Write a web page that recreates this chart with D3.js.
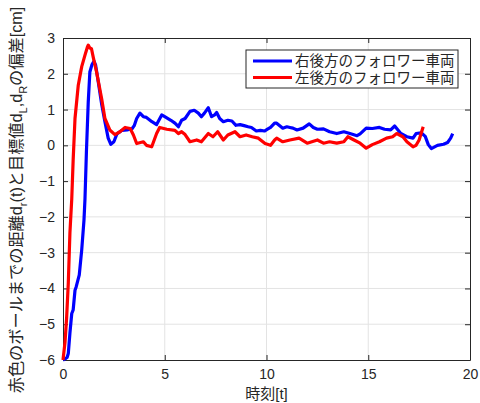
<!DOCTYPE html>
<html>
<head>
<meta charset="utf-8">
<script src="https://cdn.jsdelivr.net/npm/d3@7"></script>
<style>
  body { margin: 0; background: #fff; }
  svg { display: block; }
  .tick text { font-family: "Liberation Sans", Arial, sans-serif; font-size: 14px; fill: #262626; }
</style>
</head>
<body>
<svg id="chart" width="480" height="403"></svg>
<script>
// right rear follower (blue)
var tRight = [0, 0.1, 0.2, 0.26, 0.34, 0.43, 0.5, 0.59, 0.65, 0.8, 0.92, 1.03, 1.08, 1.15, 1.24, 1.32, 1.42, 1.52, 1.6, 1.74, 1.9, 2.06, 2.22, 2.35, 2.5, 2.65, 2.9, 3.15, 3.4, 3.5, 3.62, 3.78, 3.95, 4.1, 4.37, 4.6, 4.85, 5.0, 5.3, 5.5, 5.67, 5.83, 6.0, 6.24, 6.45, 6.65, 6.8, 6.95, 7.14, 7.3, 7.45, 7.55, 7.7, 7.88, 8.1, 8.3, 8.5, 8.7, 8.9, 9.1, 9.26, 9.5, 9.7, 9.9, 10.05, 10.2, 10.4, 10.5, 10.8, 11.0, 11.15, 11.3, 11.5, 11.8, 12.1, 12.3, 12.5, 12.8, 13.1, 13.45, 13.8, 14.1, 14.45, 14.6, 14.9, 15.2, 15.55, 15.8, 16.1, 16.3, 16.6, 16.9, 17.2, 17.35, 17.6, 17.8, 17.95, 18.1, 18.4, 18.7, 18.9, 19.05, 19.15];
var vRight = [-6, -5.97, -5.93, -5.82, -5.25, -4.7, -4.6, -4.05, -3.95, -3.62, -2.92, -2.1, -1.5, -0.2, 1.2, 2.05, 2.25, 2.35, 2.25, 1.75, 1.15, 0.66, 0.2, 0.03, 0.1, 0.32, 0.42, 0.43, 0.47, 0.55, 0.75, 0.9, 0.8, 0.78, 0.66, 0.58, 0.85, 0.8, 0.7, 0.62, 0.52, 0.7, 0.75, 0.95, 0.98, 0.9, 0.8, 0.9, 1.05, 0.8, 0.85, 0.92, 0.75, 0.66, 0.7, 0.68, 0.56, 0.58, 0.55, 0.52, 0.5, 0.4, 0.42, 0.4, 0.45, 0.5, 0.62, 0.62, 0.48, 0.52, 0.5, 0.48, 0.43, 0.48, 0.6, 0.5, 0.45, 0.46, 0.38, 0.33, 0.38, 0.33, 0.27, 0.32, 0.48, 0.47, 0.5, 0.45, 0.43, 0.54, 0.33, 0.24, 0.2, 0.33, 0.35, 0.25, 0.02, -0.09, 0.0, 0.03, 0.08, 0.2, 0.33];

// left rear follower (red)
var tLeft = [0, 0.1, 0.18, 0.26, 0.34, 0.43, 0.5, 0.59, 0.75, 0.92, 1.08, 1.2, 1.24, 1.32, 1.4, 1.49, 1.65, 1.9, 2.06, 2.3, 2.55, 2.8, 3.05, 3.3, 3.46, 3.62, 3.95, 4.1, 4.36, 4.6, 4.75, 5.1, 5.5, 5.67, 5.83, 6.0, 6.24, 6.57, 6.8, 7.14, 7.37, 7.6, 7.88, 8.1, 8.45, 8.7, 9.0, 9.3, 9.6, 9.93, 10.2, 10.4, 10.5, 10.8, 11.15, 11.6, 12.0, 12.5, 12.8, 13.1, 13.45, 13.8, 14.0, 14.3, 14.6, 14.9, 15.2, 15.55, 15.9, 16.2, 16.4, 16.7, 16.9, 17.2, 17.35, 17.5, 17.7];
var vLeft = [-6, -5.5, -4.8, -3.85, -2.45, -1.5, -0.4, 0.75, 1.68, 2.2, 2.52, 2.75, 2.8, 2.72, 2.7, 2.45, 2.05, 1.3, 0.75, 0.43, 0.3, 0.38, 0.5, 0.47, 0.29, 0.05, 0.1, 0.0, -0.04, 0.33, 0.5, 0.45, 0.42, 0.33, 0.38, 0.3, 0.1, 0.15, 0.1, 0.33, 0.24, 0.38, 0.15, 0.29, 0.38, 0.24, 0.29, 0.24, 0.2, 0.05, 0.0, 0.15, 0.2, 0.1, 0.15, 0.2, 0.06, 0.15, 0.06, 0.1, 0.06, 0.1, 0.24, 0.15, 0.06, -0.08, 0.02, 0.1, 0.2, 0.24, 0.33, 0.24, 0.1, -0.04, 0.0, 0.15, 0.52];

var xTicks = [0, 5, 10, 15, 20];
var yTicks = [-6, -5, -4, -3, -2, -1, 0, 1, 2, 3];
var seriesNames = ["右後方のフォロワー車両", "左後方のフォロワー車両"];
var seriesColors = ["#0000ff", "#ff0000"];

var L = 63, R = 470, T = 38, B = 360;
var svg = d3.select("#chart");
var x = d3.scaleLinear().domain([0, 20]).range([L, R]);
var y = d3.scaleLinear().domain([-6, 3]).range([B, T]);
var axisColor = "#262626";
// latin font first keeps the text boxes tight, CJK glyphs fall back
var jpFont = "'Liberation Sans', 'Noto Sans CJK JP', sans-serif";

// grid
svg.append("g").selectAll("line").data(xTicks.slice(1, -1)).enter().append("line")
  .attr("x1", d => x(d)).attr("x2", d => x(d)).attr("y1", T).attr("y2", B)
  .attr("stroke", "#e3e3e3");
svg.append("g").selectAll("line").data(yTicks.slice(1, -1)).enter().append("line")
  .attr("y1", d => y(d)).attr("y2", d => y(d)).attr("x1", L).attr("x2", R)
  .attr("stroke", "#e3e3e3");

// axes, ticks pointing inward like matlab
function styleAxis(g) {
  g.select(".domain").attr("stroke", axisColor);
  g.selectAll(".tick line").attr("stroke", axisColor);
}
var minus = d => d < 0 ? "\u2212" + Math.abs(d) : d;
svg.append("g").attr("transform", "translate(0," + B + ")")
  .call(d3.axisBottom(x).tickValues(xTicks).tickSizeInner(-5).tickSizeOuter(0).tickPadding(9))
  .call(styleAxis);
svg.append("g").attr("transform", "translate(0," + T + ")")
  .call(d3.axisTop(x).tickValues(xTicks).tickSizeInner(-5).tickSizeOuter(0).tickFormat(""))
  .call(styleAxis);
svg.append("g").attr("transform", "translate(" + L + ",0)")
  .call(d3.axisLeft(y).tickValues(yTicks).tickSizeInner(-5).tickSizeOuter(0).tickPadding(8).tickFormat(minus))
  .call(styleAxis);
svg.append("g").attr("transform", "translate(" + R + ",0)")
  .call(d3.axisRight(y).tickValues(yTicks).tickSizeInner(-5).tickSizeOuter(0).tickFormat(""))
  .call(styleAxis);

// lines
var line = d3.line().x(d => x(d[0])).y(d => y(d[1]));
var series = [d3.zip(tRight, vRight), d3.zip(tLeft, vLeft)];
[0, 1].forEach(function (i) {
  svg.append("path").datum(series[i])
    .attr("fill", "none")
    .attr("stroke", seriesColors[i])
    .attr("stroke-width", 3.2)
    .attr("stroke-linejoin", "round")
    .attr("d", line);
});

// x label
svg.append("text")
  .attr("x", (L + R) / 2).attr("y", 399)
  .attr("text-anchor", "middle")
  .style("font-family", jpFont)
  .style("font-size", "15px").style("fill", axisColor)
  .text("時刻[t]");

// y label with subscripts
var yl = svg.append("text")
  .attr("transform", "translate(22,200) rotate(-90)")
  .attr("text-anchor", "middle")
  .style("font-family", jpFont)
  .style("font-size", "16.2px").style("fill", axisColor);
var parts = [["赤色のボールまでの距離d", 0], ["r", 1], ["(t)と目標値d", 0], ["L", 1], [",d", 0], ["R", 1], ["の偏差[cm]", 0]];
parts.forEach(function (p, i) {
  var ts = yl.append("tspan").text(p[0]);
  if (p[1]) ts.attr("dy", 5).style("font-size", "11px");
  else if (i > 0) ts.attr("dy", -5);
});

// legend
var lg = svg.append("g").attr("transform", "translate(246,50)");
lg.append("rect").attr("width", 212).attr("height", 38)
  .attr("fill", "#fff").attr("stroke", axisColor).attr("stroke-width", 1);
seriesNames.forEach(function (name, i) {
  var yy = 11 + i * 16.5;
  lg.append("line").attr("x1", 7).attr("x2", 46).attr("y1", yy).attr("y2", yy)
    .attr("stroke", seriesColors[i]).attr("stroke-width", 3);
  lg.append("text").attr("x", 49).attr("y", yy + 5)
    .style("font-family", jpFont)
    .style("font-size", "14.5px").style("fill", axisColor)
    .text(name);
});
</script>
</body>
</html>
